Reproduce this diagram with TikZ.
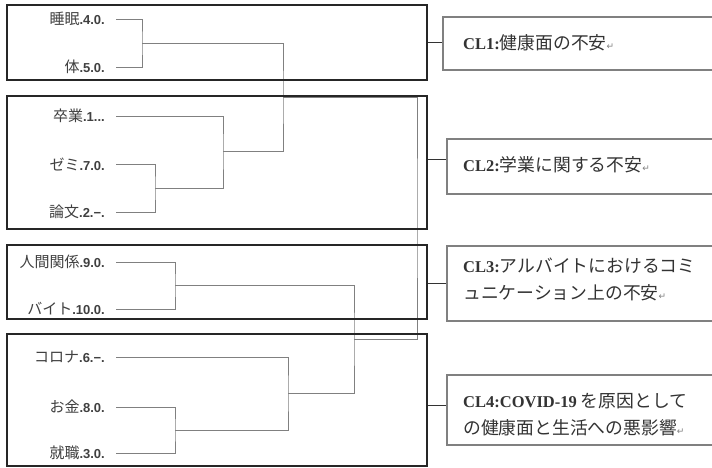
\documentclass[tikz,border=0pt]{standalone}
\usepackage{fontspec}
\setmainfont{Liberation Serif}
\newfontfamily\jp{Noto Sans CJK JP}
\newfontfamily\lsans{Liberation Sans}
\newfontfamily\dvs{DejaVu Sans}
\newcommand\leafT[2]{{\fontsize{15}{15}\selectfont\jp #1}{\fontsize{13}{13}\selectfont\lsans\bfseries #2}}
\newcommand\retmark{{\dvs\mdseries\color{black!50}\fontsize{9}{9}\selectfont ↵}}
\newcommand\jpT[1]{{\fontsize{17.8}{27}\selectfont\mdseries\jp #1}}
\begin{document}
\begin{tikzpicture}[x=1pt,y=-1pt,
  leaf/.style={anchor=east, inner sep=0pt, text=black!75},
  dend/.style={draw=black!50, line width=0.9pt},
  clbox/.style={draw=black!85, line width=1.4pt, inner sep=0pt, minimum width=420pt},
  labbox/.style={draw=black!50, line width=1.1pt, inner sep=0pt},
  labtext/.style={anchor=west, inner sep=0pt, align=left, text=black!80,
    font=\fontsize{16.5}{27}\selectfont\bfseries},
  conn/.style={draw=black!80, line width=0.9pt}]
\useasboundingbox (0,0) rectangle (712,467);
\clip (0,0) rectangle (712,467);
\fill[white] (0,0) rectangle (712,467);
% leaves
\node[leaf] (l1) at (105,19) {\leafT{睡眠}{.4.0.}};
\node[leaf] (l2) at (105,67) {\leafT{体}{.5.0.}};
\node[leaf] (l3) at (105,116) {\leafT{卒業}{.1...}};
\node[leaf] (l4) at (105,164) {\leafT{ゼミ}{.7.0.}};
\node[leaf] (l5) at (105,212) {\leafT{論文}{.2.−.}};
\node[leaf] (l6) at (105,262) {\leafT{人間関係}{.9.0.}};
\node[leaf] (l7) at (105,309) {\leafT{バイト}{.10.0.}};
\node[leaf] (l8) at (105,357) {\leafT{コロナ}{.6.−.}};
\node[leaf] (l9) at (105,407) {\leafT{お金}{.8.0.}};
\node[leaf] (l10) at (105,453) {\leafT{就職}{.3.0.}};
% junctions
\coordinate (A) at (142,43);
\coordinate (B) at (155,188);
\coordinate (C) at (223,151);
\coordinate (D) at (283,97);
\coordinate (E) at (175,285);
\coordinate (F) at (175,430);
\coordinate (G) at (288,393);
\coordinate (H) at (354,339);
\coordinate (I) at (417,218);
\draw[dend] ([xshift=11pt]l1.east) -| (A) |- ([xshift=11pt]l2.east);
\draw[dend] ([xshift=11pt]l4.east) -| (B) |- ([xshift=11pt]l5.east);
\draw[dend] ([xshift=11pt]l3.east) -| (C) |- (B);
\draw[dend] (A) -| (D) |- (C);
\draw[dend] ([xshift=11pt]l6.east) -| (E) |- ([xshift=11pt]l7.east);
\draw[dend] ([xshift=11pt]l9.east) -| (F) |- ([xshift=11pt]l10.east);
\draw[dend] ([xshift=11pt]l8.east) -| (G) |- (F);
\draw[dend] (E) -| (H) |- (G);
\draw[dend] (D) -| (I) |- (H);
% cluster boxes
\node[clbox, minimum height=75pt] (c1) at (217,42.5) {};
\node[clbox, minimum height=133pt] (c2) at (217,162.5) {};
\node[clbox, minimum height=74pt] (c3) at (217,282) {};
\node[clbox, minimum height=132pt] (c4) at (217,400) {};
% label boxes
\node[labbox, minimum width=272pt, minimum height=53pt] (t1) at (579,43.5) {};
\node[labbox, minimum width=268pt, minimum height=55pt] (t2) at (581,166.5) {};
\node[labbox, minimum width=268pt, minimum height=75pt] (t3) at (581,283.5) {};
\node[labbox, minimum width=268pt, minimum height=70pt] (t4) at (581,410) {};
% label texts
\node[labtext] (x1) at (463,43) {CL1:\jpT{健康面の不安}\retmark};
\node[labtext] (x2) at (463,165) {CL2:\jpT{学業に関する不安}\retmark};
\node[labtext] (x3) at (463,279) {CL3:\jpT{アルバイトにおけるコミ}\\\jpT{ュニケーション上の不安}\retmark};
\node[labtext] (x4) at (463,414.5) {CL4:COVID-19 \jpT{を原因として}\\\jpT{の健康面と生活への悪影響}\retmark};
% connectors
\coordinate (k1) at (c1.east);
\coordinate (k2) at ([yshift=3.5pt]c2.east);
\coordinate (k3) at ([yshift=-1pt]c3.east);
\coordinate (k4) at ([yshift=-5pt]c4.east);
\draw[conn] (k1) -- (k1 -| t1.west);
\draw[conn] (k2) -- (k2 -| t2.west);
\draw[conn] (k3) -- (k3 -| t3.west);
\draw[conn] (k4) -- (k4 -| t4.west);
\end{tikzpicture}
\end{document}
